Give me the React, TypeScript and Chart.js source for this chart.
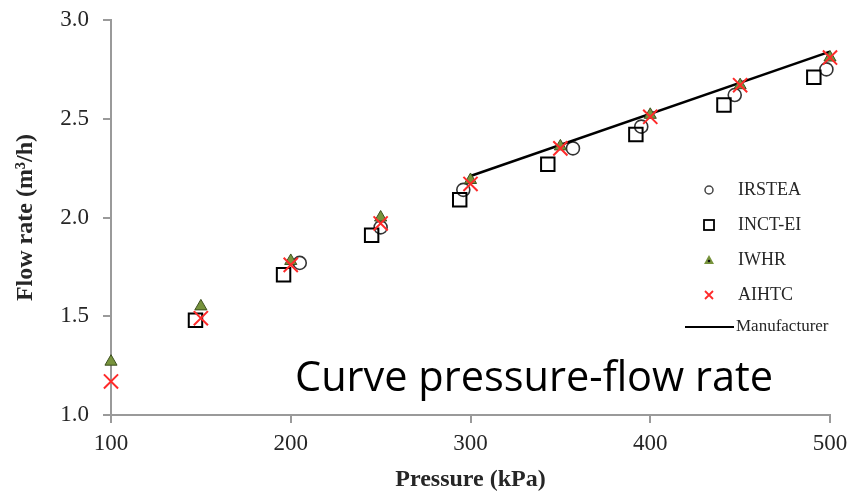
import React, { useEffect, useRef } from "react";
import { Chart, registerables } from "chart.js";

Chart.register(...registerables);

const pressureIRSTEA = [205, 250, 296, 357, 395, 447, 498];
const flowIRSTEA = [1.77, 1.95, 2.14, 2.35, 2.46, 2.62, 2.75];

const pressureINCT = [147, 196, 245, 294, 343, 392, 441, 491];
const flowINCT = [1.48, 1.71, 1.91, 2.09, 2.27, 2.42, 2.57, 2.71];

const pressureIWHR = [100, 150, 200, 250, 300, 350, 400, 450, 500];
const flowIWHR = [1.27, 1.55, 1.78, 2.0, 2.19, 2.36, 2.52, 2.67, 2.81];

const pressureAIHTC = [100, 150, 200, 250, 300, 350, 400, 450, 500];
const flowAIHTC = [1.17, 1.49, 1.76, 1.97, 2.17, 2.35, 2.51, 2.67, 2.81];

const pressureManufacturer = [300, 500];
const flowManufacturer = [2.21, 2.84];

const seriesNames = ["IRSTEA", "INCT-EI", "IWHR", "AIHTC", "Manufacturer"];
const xTicks = [100, 200, 300, 400, 500];
const yTicks = [1.0, 1.5, 2.0, 2.5, 3.0];
const overlayText = "Curve pressure-flow rate";

const toPts = (xs: number[], ys: number[]) => xs.map((x, i) => ({ x, y: ys[i] }));

const TEXT = "#262626";
const AXIS = "#9a9a9a";
const GREEN = "#77933c";
const RED = "#ff2a2a";

const overlayPlugin = {
  id: "overlayText",
  afterDraw(chart: any) {
    const ctx = chart.ctx;
    ctx.save();
    ctx.fillStyle = "#000";
    ctx.font = '41.5px "Open Sans"';
    ctx.textBaseline = "alphabetic";
    ctx.textAlign = "left";
    ctx.fillText(overlayText, 295, 391);
    ctx.restore();
  },
};

const legendPlugin = {
  id: "customLegend",
  afterDraw(chart: any) {
    const ctx = chart.ctx;
    const mx = 709;
    const tx = 738;
    const rows = [190, 225, 260, 295, 327];
    ctx.save();
    ctx.fillStyle = TEXT;
    ctx.textBaseline = "middle";
    ctx.textAlign = "left";
    // IRSTEA circle
    ctx.strokeStyle = "#444";
    ctx.lineWidth = 1.5;
    ctx.beginPath();
    ctx.arc(mx, rows[0], 4, 0, Math.PI * 2);
    ctx.stroke();
    // INCT-EI square
    ctx.strokeStyle = "#000";
    ctx.lineWidth = 1.8;
    ctx.strokeRect(mx - 5, rows[1] - 5, 10, 10);
    // IWHR triangle
    ctx.fillStyle = GREEN;
    ctx.beginPath();
    ctx.moveTo(mx, rows[2] - 5);
    ctx.lineTo(mx + 5, rows[2] + 4);
    ctx.lineTo(mx - 5, rows[2] + 4);
    ctx.closePath();
    ctx.fill();
    ctx.fillStyle = "#111";
    ctx.beginPath();
    ctx.arc(mx, rows[2] + 1, 1.3, 0, Math.PI * 2);
    ctx.fill();
    // AIHTC cross
    ctx.strokeStyle = RED;
    ctx.lineWidth = 1.8;
    ctx.beginPath();
    ctx.moveTo(mx - 4, rows[3] - 4);
    ctx.lineTo(mx + 4, rows[3] + 4);
    ctx.moveTo(mx + 4, rows[3] - 4);
    ctx.lineTo(mx - 4, rows[3] + 4);
    ctx.stroke();
    // Manufacturer line
    ctx.strokeStyle = "#000";
    ctx.lineWidth = 2;
    ctx.beginPath();
    ctx.moveTo(685, rows[4]);
    ctx.lineTo(734, rows[4]);
    ctx.stroke();

    ctx.fillStyle = TEXT;
    ctx.font = '18px "Liberation Serif"';
    for (let i = 0; i < 4; i++) ctx.fillText(seriesNames[i], tx, rows[i]);
    ctx.font = '17px "Liberation Serif"';
    ctx.fillText(seriesNames[4], 736, rows[4]);
    ctx.restore();
  },
};

export default function App() {
  const ref = useRef<HTMLCanvasElement | null>(null);

  useEffect(() => {
    document.body.style.margin = "0";
    const canvas = ref.current;
    if (!canvas) return;
    const chart = new Chart(canvas, {
      type: "scatter",
      data: {
        datasets: [
          {
            label: seriesNames[0],
            data: toPts(pressureIRSTEA, flowIRSTEA),
            pointStyle: "circle",
            pointRadius: 6.5,
            backgroundColor: "rgba(0,0,0,0)",
            borderColor: "#333",
            borderWidth: 1.6,
            order: 5,
            clip: false,
          },
          {
            label: seriesNames[1],
            data: toPts(pressureINCT, flowINCT),
            pointStyle: "rect",
            pointRadius: 9.5,
            backgroundColor: "rgba(0,0,0,0)",
            borderColor: "#000",
            borderWidth: 2,
            order: 4,
            clip: false,
          },
          {
            label: seriesNames[2],
            data: toPts(pressureIWHR, flowIWHR),
            pointStyle: "triangle",
            pointRadius: 7,
            backgroundColor: GREEN,
            borderColor: "#3c4f1e",
            borderWidth: 1,
            order: 2,
            clip: false,
          },
          {
            label: seriesNames[3],
            data: toPts(pressureAIHTC, flowAIHTC),
            pointStyle: "crossRot",
            pointRadius: 10,
            backgroundColor: RED,
            borderColor: RED,
            borderWidth: 2,
            order: 1,
            clip: false,
          },
          {
            label: seriesNames[4],
            data: toPts(pressureManufacturer, flowManufacturer),
            showLine: true,
            pointRadius: 0,
            borderColor: "#000",
            borderWidth: 2.5,
            order: 3,
            clip: false,
          },
        ],
      },
      options: {
        responsive: false,
        animation: false,
        events: [],
        layout: { padding: { top: 20, right: 21, left: 0, bottom: 0 } },
        plugins: {
          legend: { display: false },
          tooltip: { enabled: false },
          title: { display: false },
        },
        scales: {
          x: {
            type: "linear",
            min: 100,
            max: 500,
            afterFit: (s: any) => {
              s.height = 77;
              s.paddingLeft = 0;
              s.paddingRight = 0;
            },
            afterBuildTicks: (s: any) => {
              s.ticks = xTicks.map((v) => ({ value: v }));
            },
            ticks: {
              color: TEXT,
              font: { family: "Liberation Serif", size: 23 },
              padding: 7,
              maxRotation: 0,
              callback: (v: any) => String(v),
            },
            grid: {
              drawOnChartArea: false,
              drawTicks: true,
              tickLength: 8,
              color: AXIS,
              lineWidth: 2,
            },
            border: { color: AXIS, width: 2 },
            title: {
              display: true,
              text: "Pressure (kPa)",
              color: TEXT,
              font: { family: "Liberation Serif", size: 24, weight: "bold", lineHeight: 1 },
              padding: { top: 0, bottom: 0 },
            },
          },
          y: {
            type: "linear",
            min: 1.0,
            max: 3.0,
            afterFit: (s: any) => {
              s.width = 111;
              s.paddingTop = 0;
              s.paddingBottom = 0;
            },
            afterBuildTicks: (s: any) => {
              s.ticks = yTicks.map((v) => ({ value: v }));
            },
            ticks: {
              color: TEXT,
              font: { family: "Liberation Serif", size: 23 },
              padding: 14,
              callback: (v: any) => Number(v).toFixed(1),
            },
            grid: {
              drawOnChartArea: false,
              drawTicks: true,
              tickLength: 8,
              color: AXIS,
              lineWidth: 2,
            },
            border: { color: AXIS, width: 2 },
            title: {
              display: true,
              text: "Flow rate (m³/h)",
              color: TEXT,
              font: { family: "Liberation Serif", size: 24, weight: "bold", lineHeight: 1 },
              padding: { top: 14, bottom: 0 },
            },
          },
        },
      },
      plugins: [overlayPlugin, legendPlugin],
    } as any);
    return () => chart.destroy();
  }, []);

  return (
    <div style={{ width: 851, height: 492, background: "#fff" }}>
      <canvas ref={ref} width={851} height={492} style={{ display: "block" }} />
    </div>
  );
}
